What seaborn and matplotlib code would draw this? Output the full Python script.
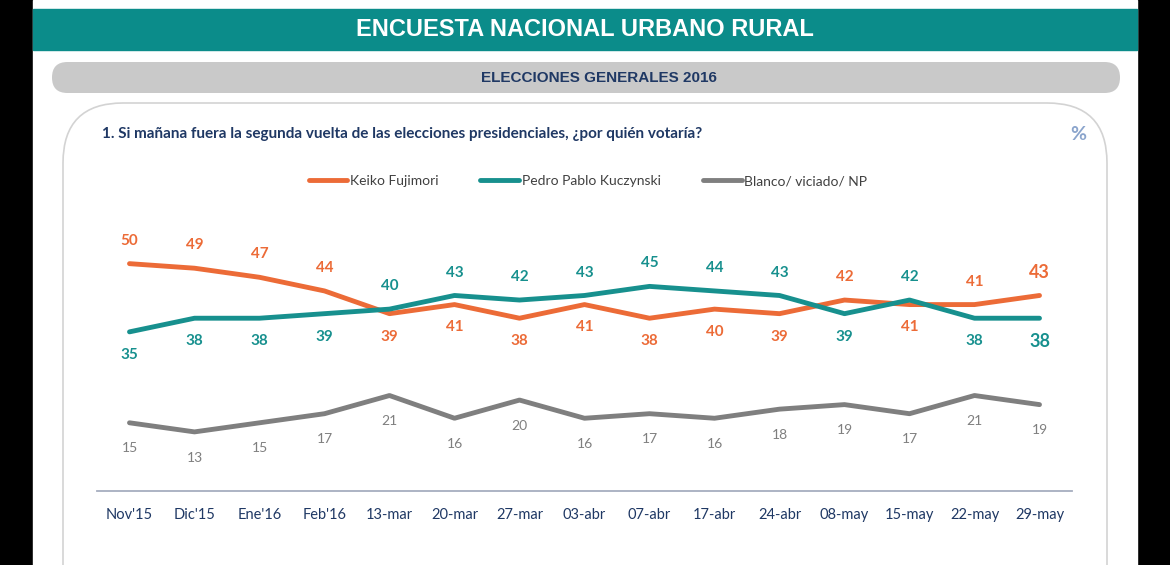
import matplotlib
matplotlib.use("Agg")
import matplotlib.pyplot as plt
from matplotlib.patches import FancyBboxPatch, Rectangle
import pandas as pd
import seaborn as sns

# datos de la encuesta
fechas = ["Nov'15", "Dic'15", "Ene'16", "Feb'16", "13-mar", "20-mar", "27-mar",
          "03-abr", "07-abr", "17-abr", "24-abr", "08-may", "15-may", "22-may", "29-may"]
keiko = [50, 49, 47, 44, 39, 41, 38, 41, 38, 40, 39, 42, 41, 41, 43]
ppk = [35, 38, 38, 39, 40, 43, 42, 43, 45, 44, 43, 39, 42, 38, 38]
blanco = [15, 13, 15, 17, 21, 16, 20, 16, 17, 16, 18, 19, 17, 21, 19]
series = ["Keiko Fujimori", "Pedro Pablo Kuczynski", "Blanco/ viciado/ NP"]

C_ORANGE = "#EC6B37"
C_TEAL = "#17908E"
C_GRAY = "#7F7F7F"
C_NAVY = "#1F3864"

df = pd.DataFrame({
    "fecha": fechas * 3,
    "valor": keiko + ppk + blanco,
    "serie": [series[0]] * len(fechas) + [series[1]] * len(fechas) + [series[2]] * len(fechas),
})

sns.set_theme(style="white")
plt.rcParams["font.family"] = ["Lato", "DejaVu Sans"]

W, H = 1170, 565
fig = plt.figure(figsize=(W / 100, H / 100), dpi=100, facecolor="black")

# fondo en coordenadas de pixel
bg = fig.add_axes([0, 0, 1, 1])
bg.set_xlim(0, W)
bg.set_ylim(H, 0)
bg.axis("off")
bg.add_patch(Rectangle((33, 0), 1104, H, color="white", zorder=0))
bg.add_patch(Rectangle((33, 9), 1104, 41, color="#0B8C8A", zorder=1))
bg.add_patch(FancyBboxPatch((52, 62), 1068, 31, boxstyle="round,pad=0,rounding_size=15.5",
                            facecolor="#C9C9C9", edgecolor="none", zorder=1))
bg.add_patch(FancyBboxPatch((63, 103), 1044, 560, boxstyle="round,pad=0,rounding_size=60",
                            facecolor="white", edgecolor="#D3D3D3", lw=1.2, zorder=1))
bg.text(585, 30, "ENCUESTA NACIONAL URBANO RURAL", color="white", fontsize=17,
        fontweight="bold", ha="center", va="center", family=["Liberation Sans", "DejaVu Sans"], zorder=2)
bg.text(599, 78, "ELECCIONES GENERALES 2016", color=C_NAVY, fontsize=11,
        fontweight="bold", ha="center", va="center", family=["Liberation Sans", "DejaVu Sans"], zorder=2)
bg.text(102, 134, "1. Si mañana fuera la segunda vuelta de las elecciones presidenciales, ¿por quién votaría?",
        color=C_NAVY, fontsize=11, fontweight="bold", ha="left", va="center", zorder=2)
bg.text(1078, 135, "%", color="#8AA4CC", fontsize=14, fontweight="bold",
        ha="center", va="center", zorder=2)

# gráfico
ax = fig.add_axes([97 / W, (H - 491) / H, 975 / W, 291 / H])
ax.set_facecolor("none")
sns.lineplot(data=df, x="fecha", y="valor", hue="serie", sort=False,
             palette=[C_ORANGE, C_TEAL, C_GRAY], linewidth=3.5, ax=ax)
ax.set_xlim(-0.5, len(fechas) - 0.5)
ax.set_ylim(0, 64)
ax.set_xlabel("")
ax.set_ylabel("")
ax.set_yticks([])
for s in ["top", "left", "right"]:
    ax.spines[s].set_visible(False)
ax.spines["bottom"].set_color("#A6AEBF")
ax.spines["bottom"].set_linewidth(1.3)
ax.tick_params(axis="x", length=0, pad=12, labelsize=10.5, labelcolor=C_NAVY)

handles, labels = ax.get_legend_handles_labels()
ax.get_legend().remove()
fig.legend(handles, labels, loc="center", bbox_to_anchor=(588 / W, 1 - 181 / H), ncol=3,
           frameon=False, handlelength=2.8, handletextpad=0.2, columnspacing=3.0,
           prop={"size": 10}, labelcolor="#404040")

# etiquetas de valores
last = len(fechas) - 1
for i in range(len(fechas)):
    k, p = keiko[i], ppk[i]
    big = 13 if i == last else 11
    k_up = k >= p
    ax.annotate(str(k), (i, k), xytext=(0, 16.5 if k_up else -16.5), textcoords="offset points",
                ha="center", va="center", color=C_ORANGE, fontsize=big, fontweight="bold")
    ax.annotate(str(p), (i, p), xytext=(0, -16.5 if k_up else 16.5), textcoords="offset points",
                ha="center", va="center", color=C_TEAL, fontsize=big, fontweight="bold")
    ax.annotate(str(blanco[i]), (i, blanco[i]), xytext=(0, -18.5), textcoords="offset points",
                ha="center", va="center", color=C_GRAY, fontsize=10)

fig.savefig("out.png", dpi=100, facecolor="black")
